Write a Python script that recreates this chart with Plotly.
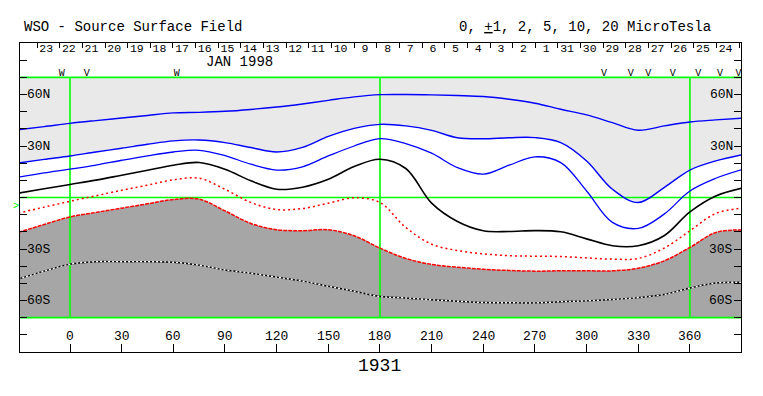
import plotly.graph_objects as go

# ---------------- data ----------------
LONS = list(range(-30, 391, 15))
BLUE1 = [39.5, 41.3, 43.2, 44.8, 46.3, 47.8, 49.3, 49.6, 50.2, 51.3, 52.7, 54.5, 56.6, 58.6, 59.9,
         60.0, 59.8, 59.4, 58.8, 57.2, 54.9, 51.4, 48.1, 43.6, 39.2, 41.7, 44.0, 45.2, 46.2]
BLUE2 = [20.1, 22.2, 24.2, 26.5, 28.7, 31.0, 33.0, 33.5, 32.0, 29.1, 26.5, 29.2, 35.6, 40.3, 42.6,
         41.7, 39.1, 34.8, 34.2, 34.8, 34.9, 32.0, 21.3, 4.8, -2.9, 5.8, 16.0, 21.3, 24.8]
BLUE3 = [11.8, 14.3, 16.5, 18.9, 21.7, 24.3, 26.5, 27.5, 24.4, 19.4, 16.0, 17.9, 24.2, 30.0, 34.3,
         31.4, 25.8, 17.4, 13.6, 18.8, 23.7, 20.3, 3.8, -14.5, -18.0, -9.7, 3.8, 11.2, 16.2]
NEUTRAL = [2.5, 5.1, 7.6, 10.1, 13.0, 15.9, 18.8, 20.4, 16.5, 9.7, 4.8, 6.0, 10.6, 18.0, 22.3,
           16.9, -3.3, -14.0, -19.4, -19.8, -19.3, -20.0, -24.1, -28.1, -28.1, -22.3, -8.4, 0.9, 5.4]
RED1 = [-9.1, -5.6, -2.2, 1.0, 4.2, 7.2, 10.3, 11.2, 4.8, -2.9, -7.0, -6.4, -3.3, -0.2, -2.9,
        -17.5, -27.2, -30.9, -32.8, -33.9, -34.2, -34.4, -35.2, -35.9, -35.5, -29.5, -19.4, -9.3, -6.2]
RED2 = [-20.3, -15.7, -11.3, -8.7, -6.2, -3.7, -1.2, -1.0, -7.8, -15.1, -18.8, -19.3, -18.8, -22.3, -29.5,
        -35.5, -39.0, -40.6, -41.8, -42.5, -42.9, -42.7, -42.7, -42.7, -41.2, -36.9, -29.1, -20.4, -18.9]
NEG5 = [-47.5, -42.9, -38.8, -37.4, -37.4, -37.4, -37.7, -39.4, -42.2, -44.1, -46.4, -48.7, -51.7, -54.6, -57.7,
        -58.5, -59.6, -60.4, -61.2, -61.3, -61.4, -60.7, -60.2, -59.4, -58.3, -56.5, -52.7, -49.8, -49.4]

DAYS = [23, 22, 21, 20, 19, 18, 17, 16, 15, 14, 13, 12, 11, 10, 9, 8, 7, 6, 5, 4, 3, 2, 1,
        31, 30, 29, 28, 27, 26, 25, 24]
DAY_TICK0 = -19.1
DAY_STEP = 13.15

MARK_LONS = [-4.8, 9.7, 62.0, 310.1, 325.6, 335.8, 350.0, 364.9, 377.5, 388.2]
MARK_TEXT = ["W", "V", "W", "V", "V", "V", "V", "V", "V", "V"]

LAT_LABEL_VALS = [60, 30, -30, -60]
LAT_LABEL_TEXT = ["60N", "30N", "30S", "60S"]
LON_TICKS = list(range(0, 361, 30))
LAT_TICKS = list(range(-80, 81, 10))
REF_LONS = [0, 180, 360]
REF_LATS = [70, 0, -70]
LAT_EDGE = 70
B0_LAT = -5.5

X_RANGE = [-29.04, 389.66]
Y_RANGE = [-90, 90]

FONT = "Liberation Mono, Courier New, monospace"
LIGHT = "#e9e9e9"
DARK = "#a6a6a6"
GREEN = "#00ff00"

n = len(LONS)
fig = go.Figure()

# polarity markers (bottom touching the shaded area)
fig.add_trace(go.Scatter(x=MARK_LONS, y=[72.4] * len(MARK_LONS), mode="text", text=MARK_TEXT,
                         textfont=dict(family=FONT, size=10, color="black"), hoverinfo="skip"))

# light grey shading (above +level contour)
fig.add_trace(go.Scatter(x=LONS, y=[LAT_EDGE] * n, mode="lines", line=dict(width=0), hoverinfo="skip"))
fig.add_trace(go.Scatter(x=LONS, y=BLUE2, mode="lines", line=dict(width=0, shape="spline"),
                         fill="tonexty", fillcolor=LIGHT, hoverinfo="skip"))
# dark grey shading (below -level contour)
fig.add_trace(go.Scatter(x=LONS, y=RED2, mode="lines", line=dict(width=0, shape="spline"), hoverinfo="skip"))
fig.add_trace(go.Scatter(x=LONS, y=[-LAT_EDGE] * n, mode="lines", line=dict(width=0),
                         fill="tonexty", fillcolor=DARK, hoverinfo="skip"))

# green reference lines
gx, gy = [], []
for lo in REF_LONS:
    gx += [lo, lo, None]
    gy += [-LAT_EDGE, LAT_EDGE, None]
for la in REF_LATS:
    gx += [X_RANGE[0], X_RANGE[1], None]
    gy += [la, la, None]
fig.add_trace(go.Scatter(x=gx, y=gy, mode="lines", line=dict(color=GREEN, width=1.6), hoverinfo="skip"))

# contours
def contour(y, color, width, dash="solid"):
    fig.add_trace(go.Scatter(x=LONS, y=y, mode="lines", hoverinfo="skip",
                             line=dict(color=color, width=width, dash=dash, shape="spline")))

contour(BLUE1, "#0000ff", 1.4)
contour(BLUE2, "#0000ff", 1.4)
contour(BLUE3, "#0000ff", 1.3)
contour(NEUTRAL, "black", 1.6)
contour(RED1, "#ff0000", 1.5, "2px,3px")
contour(RED2, "#ff0000", 1.5, "4px,1px")
contour(NEG5, "black", 1.4)
contour(NEG5, "white", 1.4, "2px,2px")

# day labels on the top axis
day_ticks = [DAY_TICK0 + DAY_STEP * k for k in range(len(DAYS) + 1)]
day_lons = [DAY_TICK0 + DAY_STEP * k + (5.3 if d >= 10 else 6.3) for k, d in enumerate(DAYS)]
fig.add_trace(go.Scatter(x=day_lons, y=[86.6] * len(DAYS), mode="text", text=[str(d) for d in DAYS],
                         textfont=dict(family=FONT, size=11.5, color="black"), xaxis="x2", hoverinfo="skip",
                         cliponaxis=False))

ann = []
for v, t in zip(LAT_LABEL_VALS, LAT_LABEL_TEXT):
    ann.append(dict(x=-24.8, y=v, text=t, xanchor="left", yanchor="middle", showarrow=False,
                    font=dict(family=FONT, size=13, color="black"), borderpad=0, borderwidth=0))
    ann.append(dict(x=385.3, y=v, text=t, xanchor="right", yanchor="middle", showarrow=False,
                    font=dict(family=FONT, size=13, color="black"), borderpad=0, borderwidth=0))
for lo in LON_TICKS:
    ann.append(dict(x=lo, y=-81.2, text=str(lo), xanchor="center", yanchor="middle", showarrow=False,
                    font=dict(family=FONT, size=13, color="black"), borderpad=0, borderwidth=0))
ann.append(dict(x=98.4, y=79.0, text="JAN 1998", xanchor="center", yanchor="middle", showarrow=False,
                borderpad=0, borderwidth=0, font=dict(family=FONT, size=14, color="black")))
ann.append(dict(xref="paper", yref="paper", x=0.0055, y=1.0518, text="WSO - Source Surface Field",
                xanchor="left", yanchor="middle", showarrow=False, borderpad=0, borderwidth=0,
                font=dict(family=FONT, size=14, color="black")))
ann.append(dict(xref="paper", yref="paper", x=0.958, y=1.0518,
                text="0, <span style='text-decoration:underline'>+</span>1, 2, 5, 10, 20 MicroTesla",
                xanchor="right", yanchor="middle", showarrow=False, borderpad=0, borderwidth=0,
                font=dict(family=FONT, size=14, color="black")))
ann.append(dict(x=180, yref="paper", y=-0.045, text="1931", xanchor="center", yanchor="middle",
                showarrow=False, font=dict(family=FONT, size=18, color="black")))
ann.append(dict(xref="paper", x=-0.0015, y=B0_LAT, text=">", xanchor="right", yanchor="middle",
                showarrow=False, borderpad=0, borderwidth=0, font=dict(family=FONT, size=10, color=GREEN)))

# the page body adds an 8px margin, so the figure is sized/offset to compensate
fig.update_layout(
    width=755, height=388, autosize=False,
    margin=dict(l=12, r=22, t=35, b=44, pad=0),
    paper_bgcolor="white", plot_bgcolor="white",
    showlegend=False, hovermode=False,
    annotations=ann,
    xaxis=dict(range=X_RANGE, showgrid=False, zeroline=False, showline=True, linecolor="black",
               linewidth=1, mirror=True, ticks="inside", tickvals=LON_TICKS, ticklen=8,
               tickcolor="black", showticklabels=False),
    xaxis2=dict(range=X_RANGE, overlaying="x", side="top", anchor="y", showgrid=False, zeroline=False,
                showline=True, linecolor="black", linewidth=1, ticks="inside", tickvals=day_ticks,
                ticklen=5, tickcolor="black", showticklabels=False),
    yaxis=dict(range=Y_RANGE, showgrid=False, zeroline=False, showline=True, linecolor="black",
               linewidth=1, mirror="ticks", ticks="inside", tickvals=LAT_TICKS, ticklen=7,
               tickcolor="black", showticklabels=False),
)

fig.write_html("out.html")
